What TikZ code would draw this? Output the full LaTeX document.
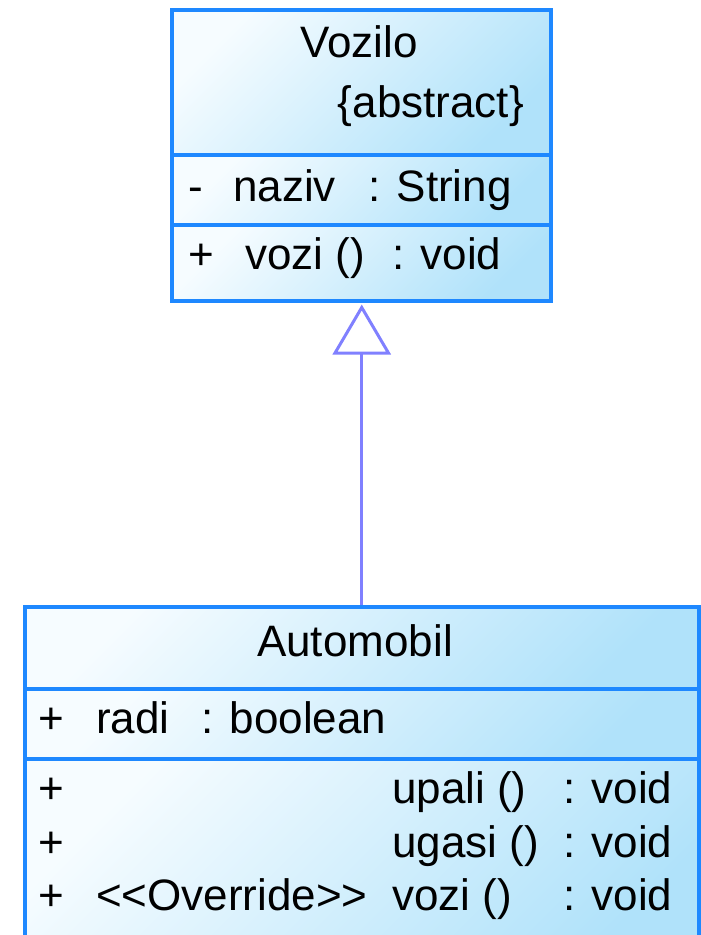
\documentclass[tikz,border=0pt]{standalone}
\usepackage{fontspec}
\setmainfont{Liberation Sans}[Ligatures=TeXOff]
\usepackage{xcolor}
\usetikzlibrary{arrows.meta,positioning}

\definecolor{umlblue}{RGB}{30,136,255}
\definecolor{umlpale}{RGB}{246,252,255}
\definecolor{umlsky}{RGB}{176,226,250}
\definecolor{umlarrow}{RGB}{128,128,255}

\tikzset{
	part/.style={draw=umlblue,line width=3.5pt,anchor=north west,inner sep=0pt,
		top color=umlpale,bottom color=umlsky,shading angle=45},
	txt/.style={anchor=base west,inner sep=0pt,font=\fontsize{44}{52}\selectfont},
	inherit/.style={draw=umlarrow,line width=3pt,
		-{Triangle[open,length=50pt,width=58pt]},shorten >=2pt},
}

\begin{document}
\begin{tikzpicture}[x=1pt,y=-1pt]
		\useasboundingbox (0,0) rectangle (701,935);
		\clip (0,0) rectangle (701,935);
		% Vozilo
		\node[part,minimum width=379pt,minimum height=145pt] (vozname) at (170,8) {};
		\node[part,minimum width=379pt,minimum height=70pt] (vozattr) at (170,153) {};
		\node[part,minimum width=379pt,minimum height=76pt] (vozmeth) at (170,223) {};
		\node[txt,anchor=base] (vozt) at (359,57) {Vozilo};
		\node[txt,anchor=base east] (vozabs) at (524,117) {\{abstract\}};
		\node[txt] (vozmin) at (188,201) {-};
		\node[txt] (naziv) at (233,201) {naziv};
		\node[txt] (nazivt) at (368,201) {: String};
		\node[txt] (vozpl) at (188,269) {+};
		\node[txt] (vozi) at (245,269) {vozi ()};
		\node[txt] (vozit) at (392,269) {: void};
		%
		% Automobil
		\node[part,minimum width=674pt,minimum height=82pt] (autname) at (23,605) {};
		\node[part,minimum width=674pt,minimum height=70pt] (autattr) at (23,687) {};
		\node[part,minimum width=674pt,minimum height=220pt] (autmeth) at (23,757) {};
		\node[txt,anchor=base] (autt) at (355,656) {Automobil};
		\node[txt] (radipl) at (38,733) {+};
		\node[txt] (radi) at (96,733) {radi};
		\node[txt] (radit) at (201,733) {: boolean};
		\node[txt] (upapl) at (38,803) {+};
		\node[txt] (upali) at (392,803) {upali ()};
		\node[txt] (upalit) at (563,803) {: void};
		\node[txt] (ugapl) at (38,857) {+};
		\node[txt] (ugasi) at (392,857) {ugasi ()};
		\node[txt] (ugasit) at (563,857) {: void};
		\node[txt] (ovrpl) at (38,910) {+};
		\node[txt] (ovr) at (96,910) {<<Override>>};
		\node[txt] (ovrvozi) at (392,910) {vozi ()};
		\node[txt] (ovrvozit) at (563,910) {: void};
		%
		\draw[inherit] (autname.north) -- (autname.north |- vozmeth.south);
\end{tikzpicture}
\end{document}
